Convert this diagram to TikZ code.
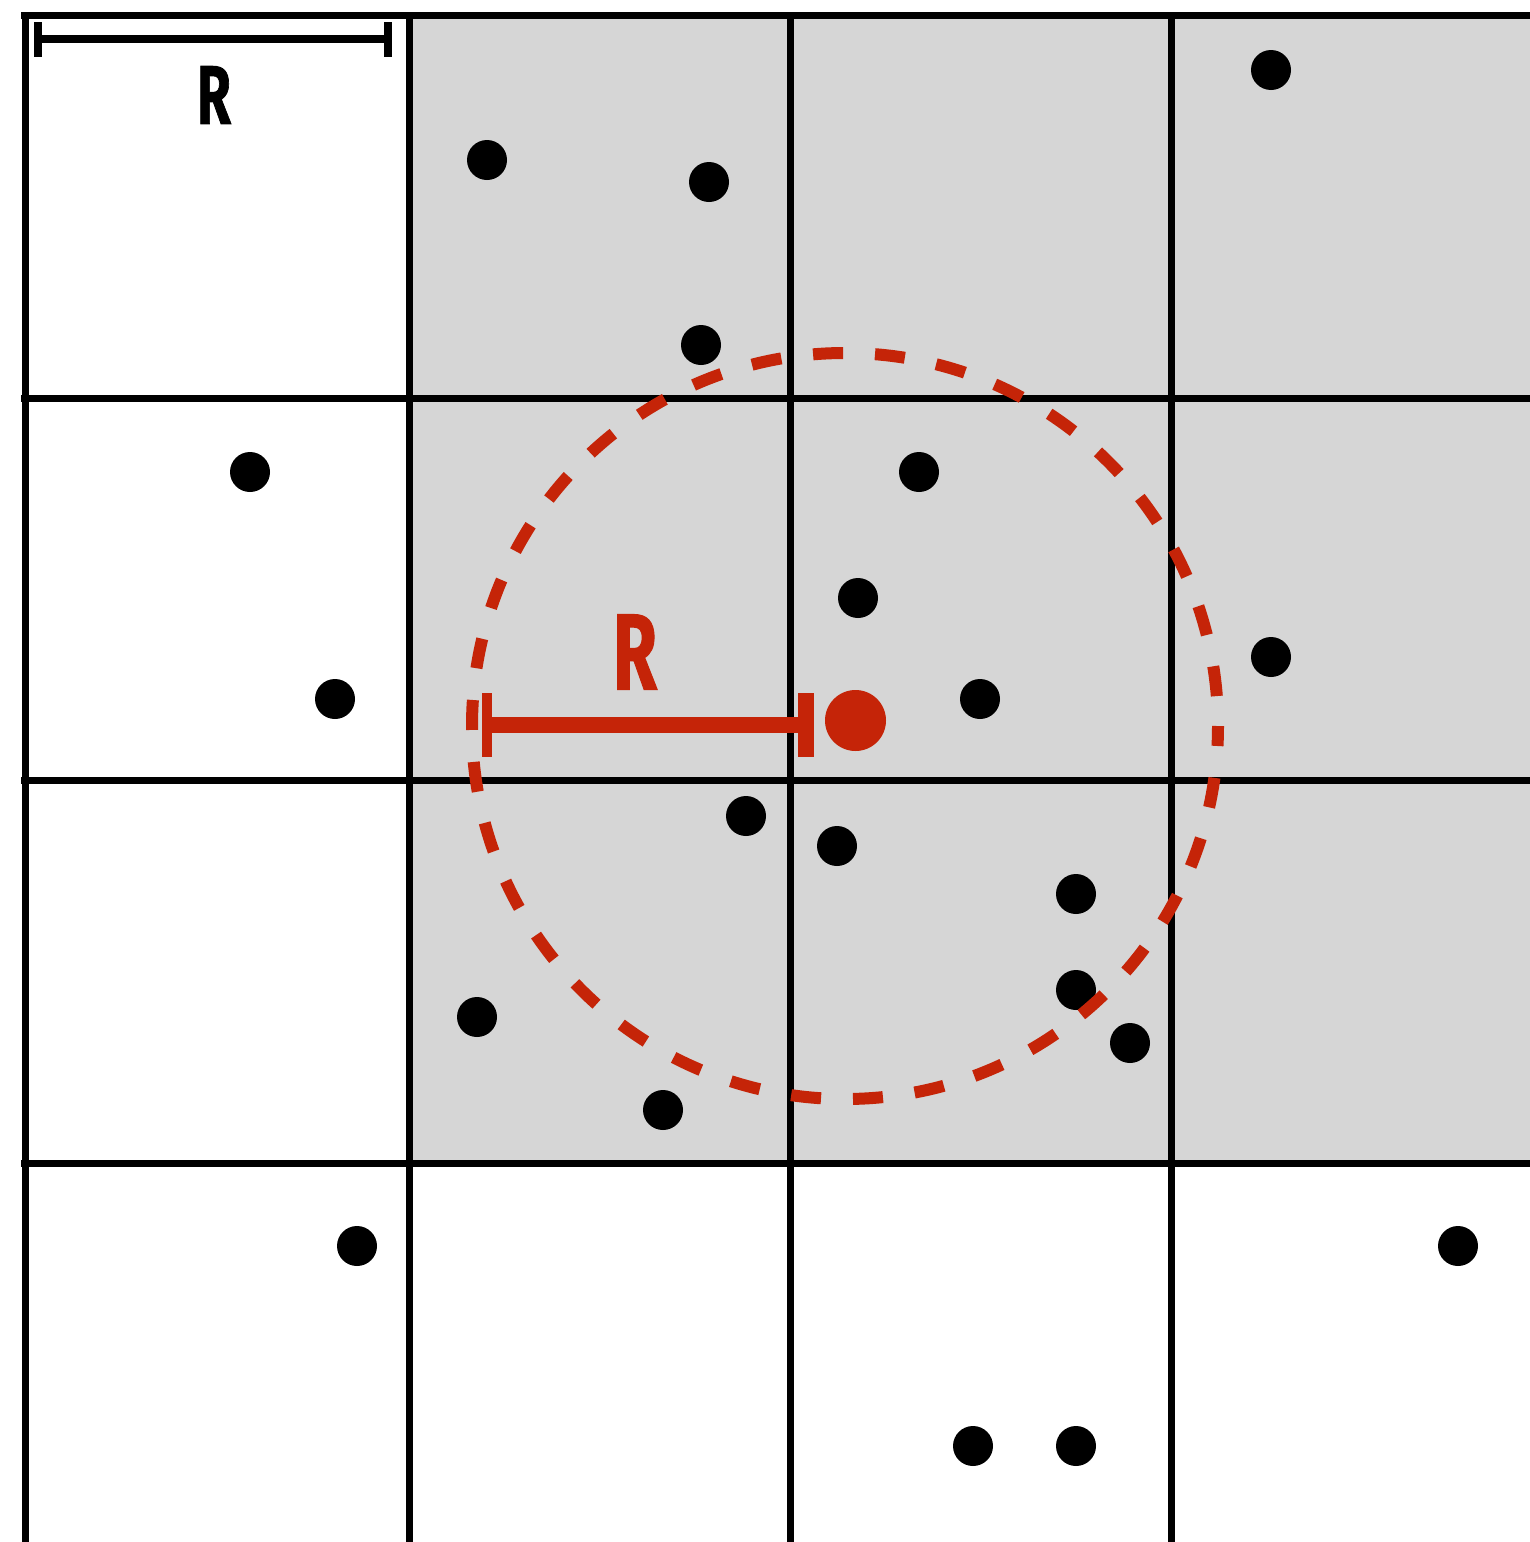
\documentclass[tikz,border=0pt]{standalone}
\usepackage{fontspec}
\setmainfont{Fira Sans}
\newfontfamily\rfont[FakeBold=1.2]{Fira Sans Bold}
\definecolor{cellgray}{RGB}{214,214,214}
\definecolor{hotred}{RGB}{197,36,8}
\begin{document}
\begin{tikzpicture}[x=1pt,y=-1pt,
  grid/.style={line width=7pt,black},
  pt/.style={circle,fill=black,minimum size=40pt,inner sep=0pt},
  query/.style={circle,fill=hotred,minimum size=61pt,inner sep=0pt},
  lbl/.style={inner sep=0pt},
]
\useasboundingbox (0,0) rectangle (1530,1542);
% shaded cells
\fill[cellgray] (409,15) rectangle (1530,1163);
% grid
\foreach \x in {25,409,790,1171} \draw[grid] (\x,12) -- (\x,1542);
\foreach \y in {15,398,780,1163} \draw[grid] (21,\y) -- (1530,\y);
% scale bar top-left
\coordinate (sa) at (37.5,39);
\coordinate (sb) at (388,39);
\draw[line width=8pt] (sa) -- (sb);
\draw[line width=8pt] (37.5,22) -- (37.5,57);
\draw[line width=8pt] (388,22) -- (388,57);
\node[lbl,font=\rfont\fontsize{83}{83}\selectfont] (r1) at (214,95) {\scalebox{0.66}[1]{R}};
% points
\foreach \n/\x/\y in {p1/487/160,p2/709/182,p3/1271/70,p4/701/345,p5/250/472,p6/919/472,
  p7/858/598,p8/1271/657,p9/335/699,p10/980/699,p11/746/816,p12/837/846,p13/1076/894,
  p14/477/1017,p15/1076/990,p16/1130/1043,p17/663/1110,p18/357/1246,p19/1458/1246,
  p20/973/1446,p21/1076/1446}
  \node[pt] (\n) at (\x,\y) {};
% query circle
\draw[hotred,line width=12pt,dash pattern=on 30pt off 32pt,dash phase=10pt] (845,726) circle[radius=373];
% query point
\node[query] (q) at (855.5,720.5) {};
\coordinate (ra) at (487,725);
\coordinate (rb) at (806,725);
\draw[hotred,line width=16pt] (ra) -- (rb);
\draw[hotred,line width=10pt] (487,693) -- (487,757);
\draw[hotred,line width=16pt] (806,693) -- (806,757);
\node[lbl,text=hotred,font=\rfont\fontsize{108}{108}\selectfont] (r2) at (635,652) {\scalebox{0.66}[1]{R}};
\end{tikzpicture}
\end{document}
